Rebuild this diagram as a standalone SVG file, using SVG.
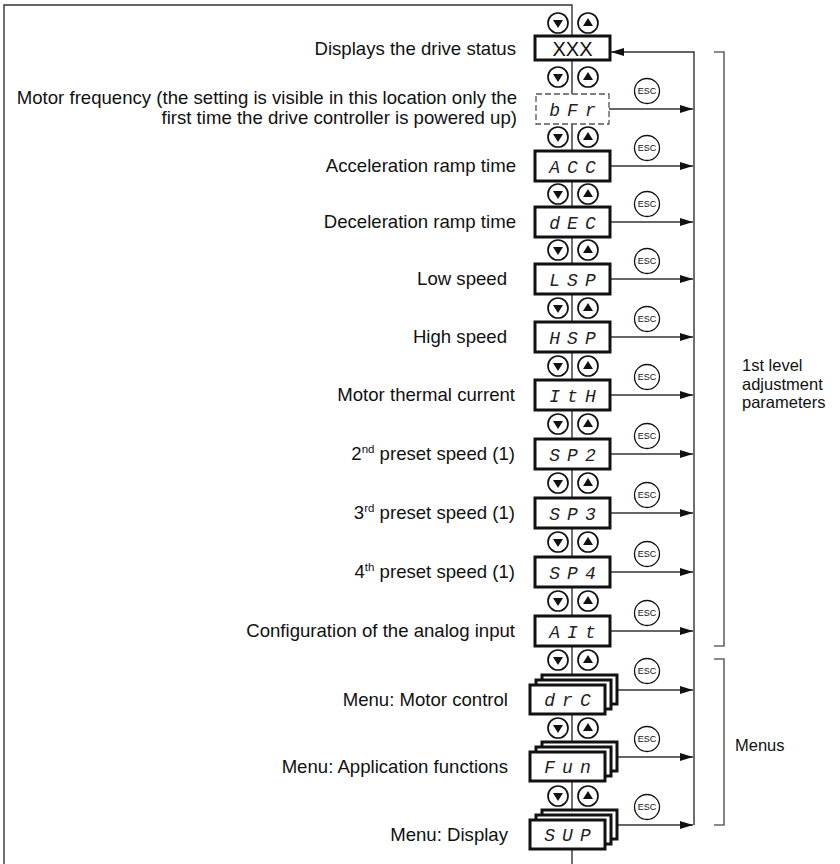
<svg xmlns="http://www.w3.org/2000/svg" xmlns:xlink="http://www.w3.org/1999/xlink" width="840" height="864" viewBox="0 0 840 864">
<style>
.lbl{font-family:"Liberation Sans",Arial,sans-serif;font-size:18.6px;fill:#111;text-anchor:end}
.rl{font-family:"Liberation Sans",Arial,sans-serif;font-size:16.5px;fill:#111}
.box{fill:#fff;stroke:#111;stroke-width:3}
.dash{fill:#fff;stroke:#555;stroke-width:1.3;stroke-dasharray:6 3}
.seg{font-family:"Liberation Mono","DejaVu Sans Mono",monospace;font-style:italic;font-size:18px;fill:#222;text-anchor:middle;letter-spacing:7px}
.xxx{font-family:"Liberation Sans",Arial,sans-serif;font-size:20px;fill:#111;text-anchor:middle}
.nav circle{fill:#fff;stroke:#111;stroke-width:1.7}
.nav path{fill:#111}
.esc circle{fill:#fff;stroke:#111;stroke-width:1.3}
.esc text{font-family:"Liberation Sans",Arial,sans-serif;font-size:9px;fill:#111;text-anchor:middle}
.ln{fill:none;stroke:#333;stroke-width:1.4}
.ar{fill:none;stroke:#333;stroke-width:1.4;marker-end:url(#ah)}
.br{fill:none;stroke:#666;stroke-width:1.6}
</style>
<defs>
<marker id="ah" viewBox="0 0 13 8" refX="13" refY="4" markerWidth="13" markerHeight="8" markerUnits="userSpaceOnUse" orient="auto">
<path d="M0,0 L13,4 L0,8 z" fill="#111"/>
</marker>
<g id="nav" class="nav">
<circle cx="-14" cy="0" r="10"/>
<path d="M-19,-3 L-9,-3 L-14,5 z"/>
<circle cx="16" cy="0" r="10"/>
<path d="M11,3 L21,3 L16,-5 z"/>
</g>
<g id="esc" class="esc">
<circle r="12.5"/>
<text y="3.2">ESC</text>
</g>
</defs>
<rect width="840" height="864" fill="#fff"/>

<g id="connectors">
<path class="ln" d="M4,864 V5 H572 V36"/>
<line class="ln" x1="572" y1="60" x2="572" y2="864"/>
<path class="ar" d="M694,825 V52 H611"/>
<path class="ar" d="M609,109 H693"/>
<path class="ar" d="M610,166 H693"/>
<path class="ar" d="M610,222 H693"/>
<path class="ar" d="M610,279 H693"/>
<path class="ar" d="M610,337 H693"/>
<path class="ar" d="M610,395 H693"/>
<path class="ar" d="M610,454 H693"/>
<path class="ar" d="M610,513 H693"/>
<path class="ar" d="M610,572 H693"/>
<path class="ar" d="M610,631 H693"/>
<path class="ar" d="M617,690 H693"/>
<path class="ar" d="M617,757 H693"/>
<path class="ar" d="M617,825 H693"/>
</g>

<g id="controls">
<use xlink:href="#nav" x="572" y="23"/>
<use xlink:href="#nav" x="572" y="77"/>
<use xlink:href="#nav" x="572" y="137"/>
<use xlink:href="#nav" x="572" y="194"/>
<use xlink:href="#nav" x="572" y="250"/>
<use xlink:href="#nav" x="572" y="308"/>
<use xlink:href="#nav" x="572" y="366"/>
<use xlink:href="#nav" x="572" y="424"/>
<use xlink:href="#nav" x="572" y="483"/>
<use xlink:href="#nav" x="572" y="542"/>
<use xlink:href="#nav" x="572" y="601"/>
<use xlink:href="#nav" x="572" y="660"/>
<use xlink:href="#nav" x="572" y="728"/>
<use xlink:href="#nav" x="572" y="796"/>
<use xlink:href="#esc" x="647" y="91"/>
<use xlink:href="#esc" x="647" y="148"/>
<use xlink:href="#esc" x="647" y="204"/>
<use xlink:href="#esc" x="647" y="261"/>
<use xlink:href="#esc" x="647" y="319"/>
<use xlink:href="#esc" x="647" y="377"/>
<use xlink:href="#esc" x="647" y="436"/>
<use xlink:href="#esc" x="647" y="495"/>
<use xlink:href="#esc" x="647" y="554"/>
<use xlink:href="#esc" x="647" y="613"/>
<use xlink:href="#esc" x="647" y="671"/>
<use xlink:href="#esc" x="647" y="739"/>
<use xlink:href="#esc" x="647" y="807"/>
</g>

<g id="node-XXX">
<text class="lbl" x="516" y="55">Displays the drive status</text>
<rect class="box" x="535" y="36" width="75" height="24" stroke-width="3.4"/>
<text class="xxx" x="572.5" y="56">XXX</text>
</g>
<g id="node-bFr">
<text class="lbl" x="517" y="104">Motor frequency (the setting is visible in this location only the</text>
<text class="lbl" x="517" y="124">first time the drive controller is powered up)</text>
<rect class="dash" x="536" y="94" width="73" height="30"/>
<text class="seg" x="576" y="116">bFr</text>
</g>
<g id="node-ACC">
<text class="lbl" x="516" y="172">Acceleration ramp time</text>
<rect class="box" x="535" y="151" width="75" height="30"/>
<text class="seg" x="576" y="173">ACC</text>
</g>
<g id="node-dEC">
<text class="lbl" x="516" y="228">Deceleration ramp time</text>
<rect class="box" x="535" y="207" width="75" height="30"/>
<text class="seg" x="576" y="229">dEC</text>
</g>
<g id="node-LSP">
<text class="lbl" x="507" y="285">Low speed</text>
<rect class="box" x="535" y="264" width="75" height="30"/>
<text class="seg" x="576" y="286">LSP</text>
</g>
<g id="node-HSP">
<text class="lbl" x="507" y="343">High speed</text>
<rect class="box" x="535" y="322" width="75" height="30"/>
<text class="seg" x="576" y="344">HSP</text>
</g>
<g id="node-ItH">
<text class="lbl" x="515" y="401">Motor thermal current</text>
<rect class="box" x="535" y="380" width="75" height="30"/>
<text class="seg" x="576" y="402">ItH</text>
</g>
<g id="node-SP2">
<text class="lbl" x="515" y="460">2<tspan font-size="11.5" dy="-7">nd</tspan><tspan dy="7"> preset speed (1)</tspan></text>
<rect class="box" x="535" y="439" width="75" height="30"/>
<text class="seg" x="576" y="461">SP2</text>
</g>
<g id="node-SP3">
<text class="lbl" x="515" y="519">3<tspan font-size="11.5" dy="-7">rd</tspan><tspan dy="7"> preset speed (1)</tspan></text>
<rect class="box" x="535" y="498" width="75" height="30"/>
<text class="seg" x="576" y="520">SP3</text>
</g>
<g id="node-SP4">
<text class="lbl" x="515" y="578">4<tspan font-size="11.5" dy="-7">th</tspan><tspan dy="7"> preset speed (1)</tspan></text>
<rect class="box" x="535" y="557" width="75" height="30"/>
<text class="seg" x="576" y="579">SP4</text>
</g>
<g id="node-AIt">
<text class="lbl" x="515" y="637">Configuration of the analog input</text>
<rect class="box" x="535" y="616" width="75" height="30"/>
<text class="seg" x="576" y="638">AIt</text>
</g>
<g id="node-drC">
<text class="lbl" x="508" y="706">Menu: Motor control</text>
<rect class="box" x="542" y="675" width="75" height="29"/>
<rect class="box" x="536" y="680" width="75" height="29"/>
<rect class="box" x="530" y="685" width="75" height="29"/>
<text class="seg" x="571" y="706">drC</text>
</g>
<g id="node-Fun">
<text class="lbl" x="508" y="773">Menu: Application functions</text>
<rect class="box" x="542" y="742" width="75" height="29"/>
<rect class="box" x="536" y="747" width="75" height="29"/>
<rect class="box" x="530" y="752" width="75" height="29"/>
<text class="seg" x="571" y="773">Fun</text>
</g>
<g id="node-SUP">
<text class="lbl" x="508" y="841">Menu: Display</text>
<rect class="box" x="542" y="810" width="75" height="29"/>
<rect class="box" x="536" y="815" width="75" height="29"/>
<rect class="box" x="530" y="820" width="75" height="29"/>
<text class="seg" x="571" y="841">SUP</text>
</g>

<g id="brackets">
<path class="br" d="M714,52 H724 V646 H714"/>
<path class="br" d="M714,659 H724 V825 H714"/>
<text class="rl" x="742" y="371">1st level</text>
<text class="rl" x="742" y="389.5">adjustment</text>
<text class="rl" x="742" y="408">parameters</text>
<text class="rl" x="735" y="751" font-size="17.5">Menus</text>
</g>
</svg>
